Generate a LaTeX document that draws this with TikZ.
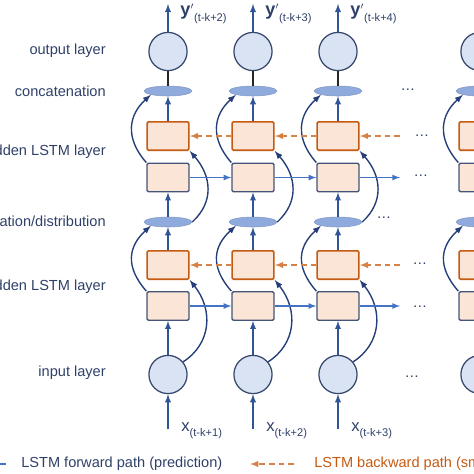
\documentclass[tikz,border=0pt]{standalone}
\usepackage{fontspec}
\setmainfont{Liberation Sans}
\usetikzlibrary{shapes.geometric,arrows,positioning}

\definecolor{txtblue}{RGB}{47,64,104}
\definecolor{navy}{RGB}{38,62,120}
\definecolor{vblue}{RGB}{47,85,151}
\definecolor{hblue}{RGB}{68,114,196}
\definecolor{boxblue}{RGB}{68,84,120}
\definecolor{orng}{RGB}{197,90,17}
\definecolor{dashorng}{RGB}{214,130,70}
\definecolor{peach}{RGB}{251,229,214}
\definecolor{lightblue}{RGB}{218,227,243}
\definecolor{midblue}{RGB}{143,170,220}
\definecolor{ringblue}{RGB}{55,72,110}

\tikzset{
  fwdbox/.style={draw=boxblue, fill=peach, line width=1pt, minimum width=30.2pt, minimum height=20.5pt, inner sep=0pt, rounded corners=1pt},
  bwdbox/.style={fwdbox, draw=orng, line width=1.1pt},
  neuron/.style={circle, draw=ringblue, fill=lightblue, line width=0.9pt, minimum size=27.5pt, inner sep=0pt},
  merge/.style={ellipse, draw=midblue!90!black, fill=midblue, line width=0.4pt, minimum width=34.5pt, minimum height=7.2pt, inner sep=0pt},
  vert/.style={draw=vblue, line width=1pt, -latex},
  catline/.style={draw=black!85, line width=1pt},
  fwd/.style={draw=hblue, line width=0.9pt, -latex},
  bwd/.style={draw=dashorng, dash pattern=on 4pt off 3pt, line width=1.1pt, -latex},
  skip/.style={draw=navy, line width=1pt, -latex},
  lbl/.style={text=txtblue, font=\fontsize{10.5}{12}\selectfont, anchor=east, inner sep=0pt},
  dots/.style={text=txtblue, font=\fontsize{10.5}{12}\selectfont, inner sep=0pt},
  ylbl/.style={text=txtblue, anchor=base west, inner sep=0pt},
}

\begin{document}
\begin{tikzpicture}[x=0.72pt, y=-0.72pt]
    \useasboundingbox (0,0) rectangle (474,474);
    \clip (0,0) rectangle (474,474);

    % layer names
    \node[lbl] (Lout) at (106,51) {output layer};
    \node[lbl] (Lcat) at (106,91) {concatenation};
    \node[lbl] (Lhu) at (106,152) {hidden LSTM layer};
    \node[lbl] (Ldis) at (106,221) {concatenation/distribution};
    \node[lbl] (Lhl) at (106,287) {hidden LSTM layer};
    \node[lbl] (Lin) at (106,373) {input layer};

    % one column per time step
    \foreach \c/\xc in {1/168,2/253,3/338,4/480}{
        \node[neuron] (out\c) at (\xc,51.5) {};
        \node[merge] (cat\c) at (\xc,91) {};
        \node[bwdbox] (bu\c) at (\xc,136) {};
        \node[fwdbox] (fu\c) at (\xc,177.5) {};
        \node[merge] (dis\c) at (\xc,222) {};
        \node[bwdbox] (bl\c) at (\xc,265) {};
        \node[fwdbox] (fl\c) at (\xc,306) {};
        \node[neuron] (in\c) at (\xc,374.5) {};
        \coordinate (top\c) at (\xc,4);
        \coordinate (bot\c) at (\xc,429);

        \draw[vert] (bot\c) -- (in\c);
        \draw[vert] (in\c) -- (fl\c);
        \draw[vert] (bl\c) -- (dis\c);
        \draw[vert] (dis\c) -- (fu\c);
        \draw[vert] (bu\c) -- (cat\c);
        \draw[catline] (cat\c) -- (out\c);
        \draw[vert] (out\c) -- (top\c);

        \draw[skip] (fu\c.north west) .. controls +(-22,-25) and +(-22,20) .. (cat\c.south west);
        \draw[skip] (dis\c.east) .. controls +(22,-20) and +(22,25) .. (bu\c.south east);
        \draw[skip] (fl\c.north west) .. controls +(-22,-25) and +(-22,20) .. (dis\c.south west);
        \draw[skip] (in\c.40) .. controls +(28,-18) and +(24,30) .. (bl\c.south east);
    }

    % paths through time
    \foreach \a/\b in {1/2,2/3}{
        \draw[fwd] (fu\a) -- (fu\b);
        \draw[fwd] (fl\a) -- (fl\b);
        \draw[bwd] (bu\b) -- (bu\a);
        \draw[bwd] (bl\b) -- (bl\a);
    }
    \coordinate (fuend) at (400,177.5);
    \coordinate (flend) at (400,306);
    \coordinate (buend) at (400,136);
    \coordinate (blend) at (400,265);
    \draw[fwd] (fu3) -- (fuend);
    \draw[fwd] (fl3) -- (flend);
    \draw[bwd] (buend) -- (bu3);
    \draw[bwd] (blend) -- (bl3);

    \node[dots] (dcat) at (408,90) {\dots};
    \node[dots] (dbu) at (422,136) {\dots};
    \node[dots] (dfu) at (421,176) {\dots};
    \node[dots] (ddis) at (384,218) {\dots};
    \node[dots] (dbl) at (420,264) {\dots};
    \node[dots] (dfl) at (420,307) {\dots};
    \node[dots] (din) at (412,377) {\dots};

    % outputs and inputs
    \foreach \xc/\k in {168/2,253/3,338/4}{
        \node[ylbl] (y\k) at (\xc+12,15) {{\fontsize{13}{13}\selectfont\bfseries y}$'$\raisebox{-5pt}{\fontsize{8}{8}\selectfont (t-k+\k)}};
    }
    \foreach \xc/\k in {168/1,253/2,338/3}{
        \node[ylbl] (x\k) at (\xc+13,431) {{\fontsize{12}{12}\selectfont x}\raisebox{-4pt}{\fontsize{8}{8}\selectfont (t-k+\k)}};
    }

    % legend
    \coordinate (lgf1) at (-30,464);
    \coordinate (lgf2) at (6,464);
    \draw[fwd, latex-] (lgf1) -- (lgf2);
    \node[lbl, anchor=west] (Lfwd) at (21,464) {LSTM forward path (prediction)};
    \coordinate (lgb1) at (294,464);
    \coordinate (lgb2) at (250,464);
    \draw[bwd] (lgb1) -- (lgb2);
    \node[lbl, anchor=west, text=orng] (Lbwd) at (314,464) {LSTM backward path (smoothing)};
\end{tikzpicture}
\end{document}
